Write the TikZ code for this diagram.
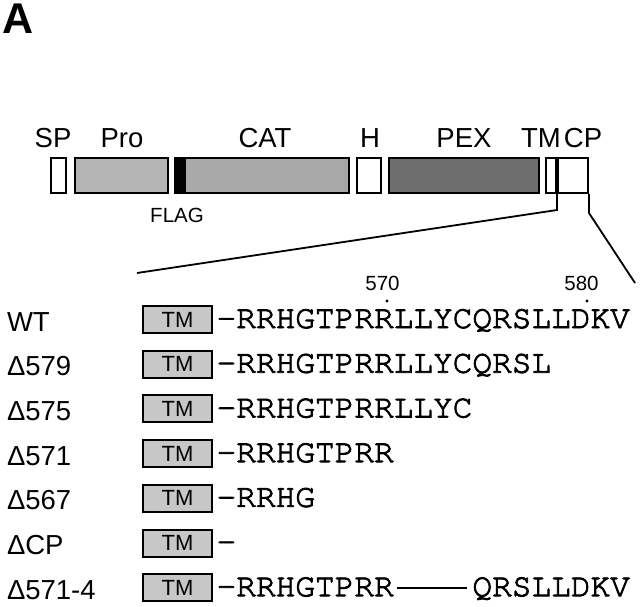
\documentclass[tikz,border=0pt]{standalone}
\usepackage{fontspec}
\setmainfont{Liberation Sans}
\newfontfamily\seqfont{texgyrecursor-regular.otf}[FakeBold=2.5]
\definecolor{progris}{gray}{0.71}
\definecolor{catgris}{gray}{0.66}
\definecolor{pexgris}{gray}{0.43}
\definecolor{tmgris}{gray}{0.78}

\begin{document}
\begin{tikzpicture}[x=1pt, y=-1pt, line width=2pt,
    every node/.style={inner sep=0pt, font=\fontsize{27.5}{29}\selectfont},
    dominio/.style={draw, minimum height=35pt},
    tmcaja/.style={draw, fill=tmgris, minimum width=69pt, minimum height=27pt, font=\fontsize{22}{24}\selectfont},
    secuencia/.style={anchor=base west, font=\seqfont\fontsize{32.8}{34}\selectfont}]
    \useasboundingbox (0,0) rectangle (640,606);
    \node[anchor=base west, font=\fontsize{43}{45}\selectfont\bfseries] (panel) at (1,33) {A};

    % Dominios de la proteína completa.
    \foreach \nombre/\xa/\xb/\relleno in {sp/50/67/white, pro/74/169/progris, flag/174/184/black, cat/184/350/catgris, h/356/382/white, pex/388/540/pexgris, tmd/545/557/white, cp/557/589/white} {
        \node[dominio, fill=\relleno, minimum width={\xb-\xa-2}] (\nombre) at ({(\xa+\xb)/2},175.5) {};
    }
    \foreach \nombre/\x/\texto in {sp/53/SP, pro/122/Pro, cat/265/CAT, h/370/H, pex/464/PEX, tmd/541/TM, cp/583/CP} {
        \node[anchor=base] (l\nombre) at (\x,147) {\texto};
    }
    \node[anchor=base, font=\fontsize{20.5}{22}\selectfont] (lflag) at (177,222) {FLAG};

    % Ampliación de la región TM-CP.
    \coordinate (zoomizq) at (137,273);
    \coordinate (zoomder) at (635,283);
    \draw[line width=1.8pt] (tmd.south east) -- ++(0,16) -- (zoomizq);
    \draw[line width=1.8pt] (cp.south east) -- ++(0,19) -- (zoomder);
    \node[anchor=base, font=\fontsize{20.5}{22}\selectfont] (n570) at (382.5,290) {570};
    \node[anchor=base, font=\fontsize{20.5}{22}\selectfont] (n580) at (581.5,290) {580};
    \fill (387,301) circle (1.7);
    \fill (587,301) circle (1.7);

    % Construcciones con deleciones en la cola citoplasmática.
    \foreach \i/\etiqueta/\residuos in {1/WT/-RRHGTPRRLLYCQRSLLDKV, 2/Δ579/-RRHGTPRRLLYCQRSL, 3/Δ575/-RRHGTPRRLLYC, 4/Δ571/-RRHGTPRR, 5/Δ567/-RRHG, 6/ΔCP/-, 7/Δ571-4/-RRHGTPRR} {
        \pgfmathsetmacro{\yc}{319.5+44.7*(\i-1)}
        \node[tmcaja] (tm\i) at (177.5,\yc) {TM};
        \node[anchor=base west] (et\i) at (6,\yc+11.5) {\etiqueta};
        \node[secuencia] (sec\i) at (215.6,\yc+8.5) {\residuos};
    }
    \node[secuencia] (sec7b) at ({215.6+13*19.68},{319.5+44.7*6+8.5}) {QRSLLDKV};
    \draw[shorten <=2pt, shorten >=4pt] (sec7.east |- tm7) -- (sec7b.west |- tm7);
\end{tikzpicture}
\end{document}
